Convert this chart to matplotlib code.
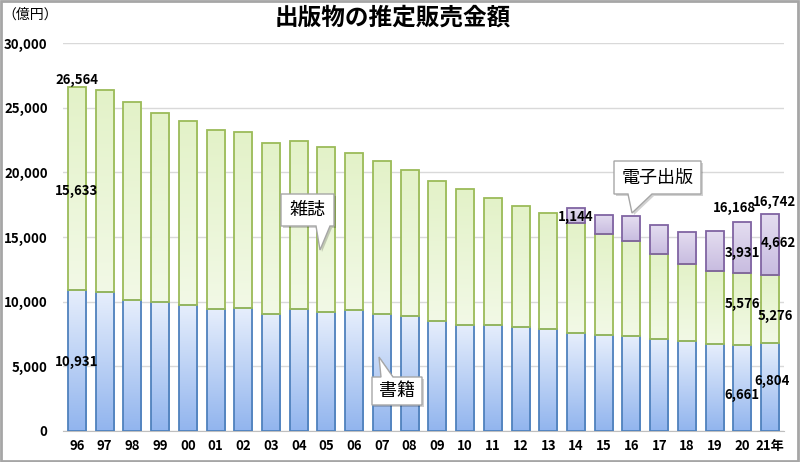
import numpy as np
import matplotlib
matplotlib.use("Agg")
import matplotlib.pyplot as plt
from matplotlib.patches import Polygon, Rectangle
from matplotlib.colors import LinearSegmentedColormap

plt.rcParams['font.family'] = ['Noto Sans CJK JP', 'DejaVu Sans']

years = ["96", "97", "98", "99", "00", "01", "02", "03", "04", "05", "06", "07", "08",
         "09", "10", "11", "12", "13", "14", "15", "16", "17", "18", "19", "20", "21年"]
books = [10931, 10730, 10100, 9936, 9706, 9456, 9490, 9056, 9429, 9197, 9326, 9026, 8878,
         8492, 8213, 8199, 8013, 7851, 7544, 7419, 7370, 7152, 6991, 6723, 6661, 6804]
magazines = [15633, 15644, 15315, 14672, 14261, 13794, 13616, 13222, 12998, 12767, 12200, 11827, 11299,
             10864, 10536, 9844, 9385, 8972, 8520, 7801, 7339, 6548, 5930, 5637, 5576, 5276]
ebooks = [0, 0, 0, 0, 0, 0, 0, 0, 0, 0, 0, 0, 0,
          0, 0, 0, 0, 0, 1144, 1502, 1909, 2215, 2479, 3072, 3931, 4662]
yticks = [0, 5000, 10000, 15000, 20000, 25000, 30000]

W, H = 800, 462
fig = plt.figure(figsize=(W / 100, H / 100), dpi=100)
L, R, T, B = 63, 784, 43, 431
ax = fig.add_axes([L / W, (H - B) / H, (R - L) / W, (B - T) / H])

n = len(years)
x = np.arange(n)
bw = 0.65
grad = np.linspace(0, 1, 64).reshape(-1, 1)


def grad_bar(xi, bottom, height, c_bottom, c_top, edge):
    if height <= 0:
        return
    rect = ax.bar(xi, height, bw, bottom=bottom, color='none', edgecolor=edge,
                  linewidth=1.3, zorder=4)[0]
    cmap = LinearSegmentedColormap.from_list('g', [c_bottom, c_top])
    im = ax.imshow(grad, extent=[xi - bw / 2, xi + bw / 2, bottom, bottom + height],
                   aspect='auto', origin='lower', cmap=cmap, zorder=3, interpolation='bilinear')
    im.set_clip_path(rect)


books_a = np.array(books)
mags_a = np.array(magazines)
eb_a = np.array(ebooks)
for i in range(n):
    grad_bar(x[i], 0, books_a[i], '#92b5ee', '#e6eefc', '#4f81bd')
    grad_bar(x[i], books_a[i], mags_a[i], '#f2f9e6', '#e3f2c8', '#9bbb59')
    grad_bar(x[i], books_a[i] + mags_a[i], eb_a[i], '#c8bce0', '#e4ddf0', '#8064a2')

ax.set_xlim(-0.5, n - 0.5)
ax.set_ylim(0, 30000)
ax.set_yticks(yticks)
ax.set_yticklabels([f"{v:,}" for v in yticks], fontsize=9.5, fontweight='bold')
ax.set_xticks(x)
ax.set_xticklabels(years, fontsize=9.5, fontweight='bold')
ax.tick_params(axis='both', length=0)
ax.tick_params(axis='y', pad=11)
ax.tick_params(axis='x', pad=6)
ax.grid(axis='y', color='#d9d9d9', linewidth=1, zorder=0)
ax.set_axisbelow(True)
for s in ['top', 'right', 'left']:
    ax.spines[s].set_visible(False)
ax.spines['bottom'].set_color('#bfbfbf')

totals = books_a + mags_a + eb_a
k = 0.72  # px -> pt


def lab(i, yv, txt, dx=0, dy=0):
    ax.annotate(txt, (x[i], yv), xytext=(dx * k, -dy * k), textcoords='offset points',
                ha='center', va='center', fontsize=9.5, fontweight='bold', zorder=6)


# 1996
lab(0, totals[0], f"{totals[0]:,}", dy=-7)
lab(0, books_a[0] + mags_a[0] / 2, f"{mags_a[0]:,}", dy=2)
lab(0, books_a[0] / 2, f"{books_a[0]:,}", dy=1.5)
# 2014 e-book
lab(18, books_a[18] + mags_a[18] + eb_a[18] / 2, f"{eb_a[18]:,}", dy=1)
# 2020
lab(24, totals[24], f"{totals[24]:,}", dx=-8, dy=-14)
lab(24, books_a[24] + mags_a[24] + eb_a[24] / 2, f"{eb_a[24]:,}", dy=5.5)
lab(24, books_a[24] + mags_a[24] / 2, f"{mags_a[24]:,}", dy=-5)
lab(24, books_a[24] / 2, f"{books_a[24]:,}", dy=7)
# 2021
lab(25, totals[25], f"{totals[25]:,}", dx=4, dy=-12)
lab(25, books_a[25] + mags_a[25] + eb_a[25] / 2, f"{eb_a[25]:,}", dx=8, dy=-2)
lab(25, books_a[25] + mags_a[25] / 2, f"{mags_a[25]:,}", dx=5, dy=7)
lab(25, books_a[25] / 2, f"{books_a[25]:,}", dx=2, dy=-6)


def fp(px, py):
    return (px / W, (H - py) / H)


def callout(verts, text, cx, cy):
    sh = Polygon([fp(a + 2, b + 2) for a, b in verts], closed=True, transform=fig.transFigure,
                 facecolor='#000000', alpha=0.18, edgecolor='none', zorder=7)
    fig.add_artist(sh)
    p = Polygon([fp(a, b) for a, b in verts], closed=True, transform=fig.transFigure,
                facecolor='white', edgecolor='#a6a6a6', linewidth=1.0, zorder=8)
    fig.add_artist(p)
    fig.text(*fp(cx, cy), text, ha='center', va='center', fontsize=13, zorder=9)


callout([(281, 194), (334, 194), (334, 226), (330, 226), (320, 250), (316, 226), (281, 226)],
        "雑誌", 307.5, 210)
callout([(372, 377), (381, 377), (379, 357), (393, 377), (422, 377), (422, 405), (372, 405)],
        "書籍", 397, 391)
callout([(614, 161), (701, 161), (701, 194), (652, 194), (632, 213), (628, 194), (614, 194)],
        "電子出版", 657.5, 177.5)

fig.text(*fp(393, 18), "出版物の推定販売金額", ha='center', va='center', fontsize=17, fontweight='bold')
fig.text(*fp(30, 15), "（億円）", ha='center', va='center', fontsize=10)

fig.add_artist(Rectangle((0.001, 0.002), 0.997, 0.995, transform=fig.transFigure,
                         facecolor='none', edgecolor='#a6a6a6', linewidth=2, zorder=10))

fig.savefig("out.png", dpi=100)
